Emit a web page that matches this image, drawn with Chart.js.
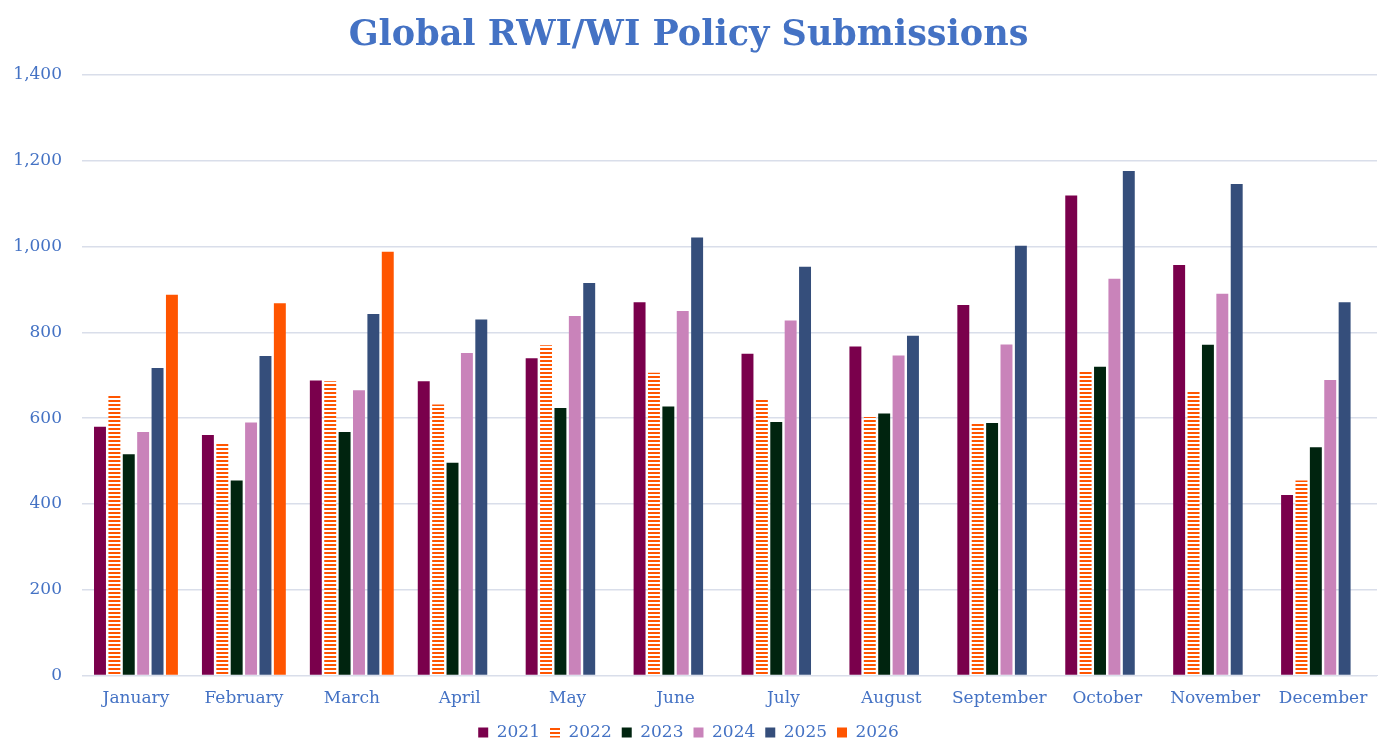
<!DOCTYPE html>
<html>
<head>
<meta charset="utf-8">
<script src="https://cdn.jsdelivr.net/npm/chart.js@4.4.1/dist/chart.umd.min.js"></script>
<style>
html,body{margin:0;padding:0;background:#fff;}
#wrap{width:1392px;height:753px;position:relative;}
</style>
</head>
<body>
<div id="wrap"><canvas id="c" width="1392" height="753"></canvas></div>
<script>
const months = ["January","February","March","April","May","June","July","August","September","October","November","December"];
const years = ["2021","2022","2023","2024","2025","2026"];
const v2021 = [580,561,688,686,740,870,750,767,864,1119,957,421];
const v2022 = [652,541,686,632,770,706,643,603,588,708,661,455];
const v2023 = [516,455,568,496,624,627,591,611,589,720,771,532];
const v2024 = [568,590,665,752,838,850,828,746,772,925,890,689];
const v2025 = [717,745,843,830,915,1021,953,792,1002,1176,1146,870];
const v2026 = [888,868,988,null,null,null,null,null,null,null,null,null];
const yTicks = [0,200,400,600,800,1000,1200,1400];

const textColor = '#4472C4';
const fontFamily = "'DejaVu Serif', Georgia, serif";

function stripePattern(){
  const pc = document.createElement('canvas');
  pc.width = 4; pc.height = 4;
  const g = pc.getContext('2d');
  g.fillStyle = '#ffffff'; g.fillRect(0,0,4,4);
  g.fillStyle = '#FF5500'; g.fillRect(0,0,4,2);
  return document.getElementById('c').getContext('2d').createPattern(pc,'repeat');
}
const stripes = stripePattern();

const colors = ['#7A004C', stripes, '#00240F', '#C983BA', '#354E7B', '#FF5500'];
const series = [v2021,v2022,v2023,v2024,v2025,v2026];

new Chart(document.getElementById('c'), {
  type: 'bar',
  data: {
    labels: months,
    datasets: years.map((y,i)=>({
      label: y,
      data: series[i],
      backgroundColor: colors[i],
      borderWidth: 0,
      categoryPercentage: 0.8,
      barPercentage: 0.83
    }))
  },
  options: {
    responsive: false,
    animation: false,
    layout: { padding: { left: 0, right: 15, top: 0, bottom: 2 } },
    plugins: {
      title: {
        display: true,
        text: 'Global RWI/WI Policy Submissions',
        color: textColor,
        font: { family: fontFamily, size: 35, weight: 'bold' },
        padding: { top: 15, bottom: 18 }
      },
      legend: {
        position: 'bottom',
        labels: {
          color: textColor,
          font: { family: fontFamily, size: 17 },
          boxWidth: 10, boxHeight: 10,
          padding: 10
        }
      },
      tooltip: { enabled: false }
    },
    scales: {
      x: {
        grid: { display: false },
        border: { display: true, color: '#D9DEEA' },
        ticks: { color: textColor, font: { family: fontFamily, size: 17 }, padding: 5 }
      },
      y: {
        min: 0, max: 1400,
        afterBuildTicks: (ax)=>{ ax.ticks = yTicks.map(v=>({value:v})); },
        afterFit: (ax)=>{ ax.width = 82; },
        grid: { color: '#D9DEEA', lineWidth: 1.5, drawTicks: false },
        border: { display: false },
        ticks: {
          color: textColor,
          font: { family: fontFamily, size: 17 },
          padding: 20,
          callback: (v)=>v.toLocaleString('en-US')
        }
      }
    }
  }
});
</script>
</body>
</html>
